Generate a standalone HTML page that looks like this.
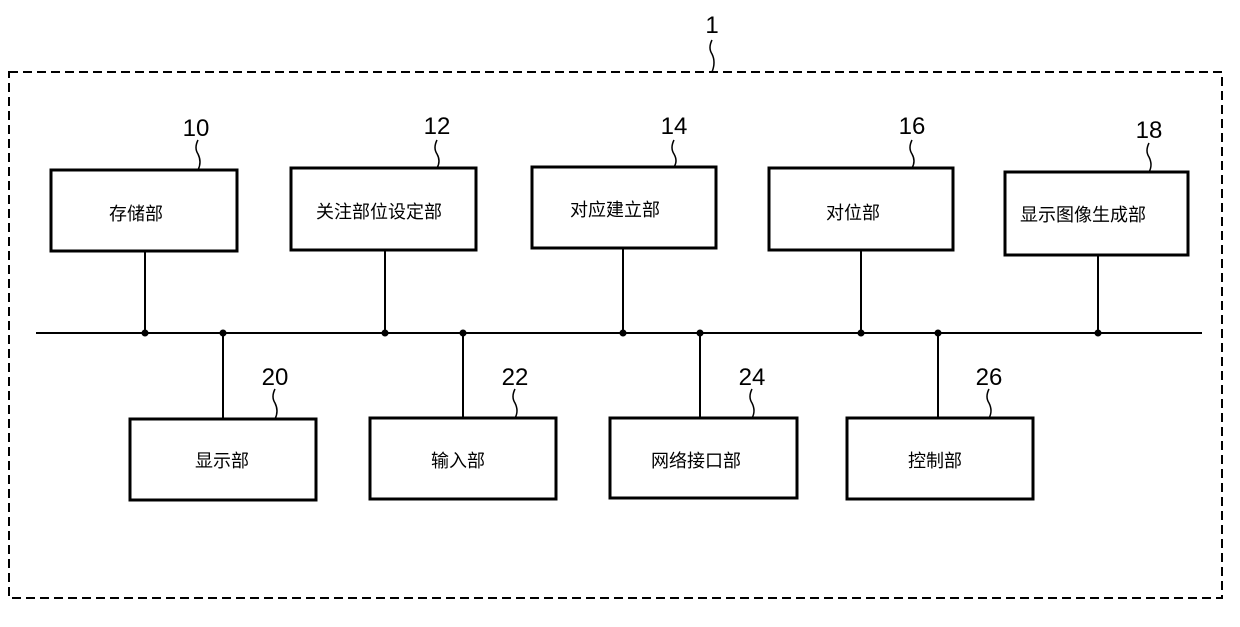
<!DOCTYPE html>
<html><head><meta charset="utf-8"><style>
body{margin:0;background:#fff}
svg text{font-family:"Liberation Sans","Noto Sans CJK SC",sans-serif;fill:#000}
</style></head><body>
<svg width="1240" height="622" viewBox="0 0 1240 622" xmlns="http://www.w3.org/2000/svg">
<rect x="9" y="72" width="1213" height="526" fill="none" stroke="#000" stroke-width="2" stroke-dasharray="9,5"/>
<text x="712" y="33" font-size="24" text-anchor="middle">1</text>
<path d="M712 40 q-4 8 0 14 q4 8 0 18" fill="none" stroke="#000" stroke-width="1.5"/>
<g fill="none" stroke="#000" stroke-width="3">
<rect x="51" y="170" width="186" height="81"/>
<rect x="291" y="168" width="185" height="82"/>
<rect x="532" y="167" width="184" height="81"/>
<rect x="769" y="168" width="184" height="82"/>
<rect x="1005" y="172" width="183" height="83"/>
<rect x="130" y="419" width="186" height="81"/>
<rect x="370" y="418" width="186" height="81"/>
<rect x="610" y="418" width="187" height="80"/>
<rect x="847" y="418" width="186" height="81"/>
</g>
<g stroke="#000" stroke-width="2" fill="none">
<line x1="36" y1="333" x2="1202" y2="333"/>
<line x1="145" y1="251" x2="145" y2="333"/>
<line x1="385" y1="250" x2="385" y2="333"/>
<line x1="623" y1="248" x2="623" y2="333"/>
<line x1="861" y1="250" x2="861" y2="333"/>
<line x1="1098" y1="255" x2="1098" y2="333"/>
<line x1="223" y1="333" x2="223" y2="419"/>
<line x1="463" y1="333" x2="463" y2="418"/>
<line x1="700" y1="333" x2="700" y2="418"/>
<line x1="938" y1="333" x2="938" y2="418"/>
</g>
<g fill="#000">
<circle cx="145" cy="333" r="3.5"/><circle cx="385" cy="333" r="3.5"/><circle cx="623" cy="333" r="3.5"/><circle cx="861" cy="333" r="3.5"/><circle cx="1098" cy="333" r="3.5"/>
<circle cx="223" cy="333" r="3.5"/><circle cx="463" cy="333" r="3.5"/><circle cx="700" cy="333" r="3.5"/><circle cx="938" cy="333" r="3.5"/>
</g>
<g stroke="#000" stroke-width="1.5" fill="none">
<path d="M198 140 q-4 8 0 14 q4 8 0 16"/>
<path d="M437 140 q-4 8 0 14 q4 7 0 14"/>
<path d="M674 140 q-4 8 0 14 q4 7 0 13"/>
<path d="M912 140 q-4 8 0 14 q4 7 0 14"/>
<path d="M1149 143 q-4 8 0 14 q4 8 0 15"/>
<path d="M275 389 q-4 8 0 14 q4 8 0 16"/>
<path d="M515 389 q-4 8 0 14 q4 8 0 15"/>
<path d="M752 389 q-4 8 0 14 q4 8 0 15"/>
<path d="M989 389 q-4 8 0 14 q4 8 0 15"/>
</g>
<g font-size="24" text-anchor="middle">
<text x="196" y="136">10</text><text x="437" y="134">12</text><text x="674" y="134">14</text><text x="912" y="134">16</text><text x="1149" y="138">18</text>
<text x="275" y="385">20</text><text x="515" y="385">22</text><text x="752" y="385">24</text><text x="989" y="385">26</text>
</g>
<g font-size="18" text-anchor="middle">
<text x="136" y="220">存储部</text>
<text x="379" y="218">关注部位设定部</text>
<text x="615" y="216">对应建立部</text>
<text x="853" y="219">对位部</text>
<text x="1083" y="221">显示图像生成部</text>
<text x="222" y="467">显示部</text>
<text x="458" y="467">输入部</text>
<text x="696" y="467">网络接口部</text>
<text x="935" y="467">控制部</text>
</g>
</svg>
</body></html>
